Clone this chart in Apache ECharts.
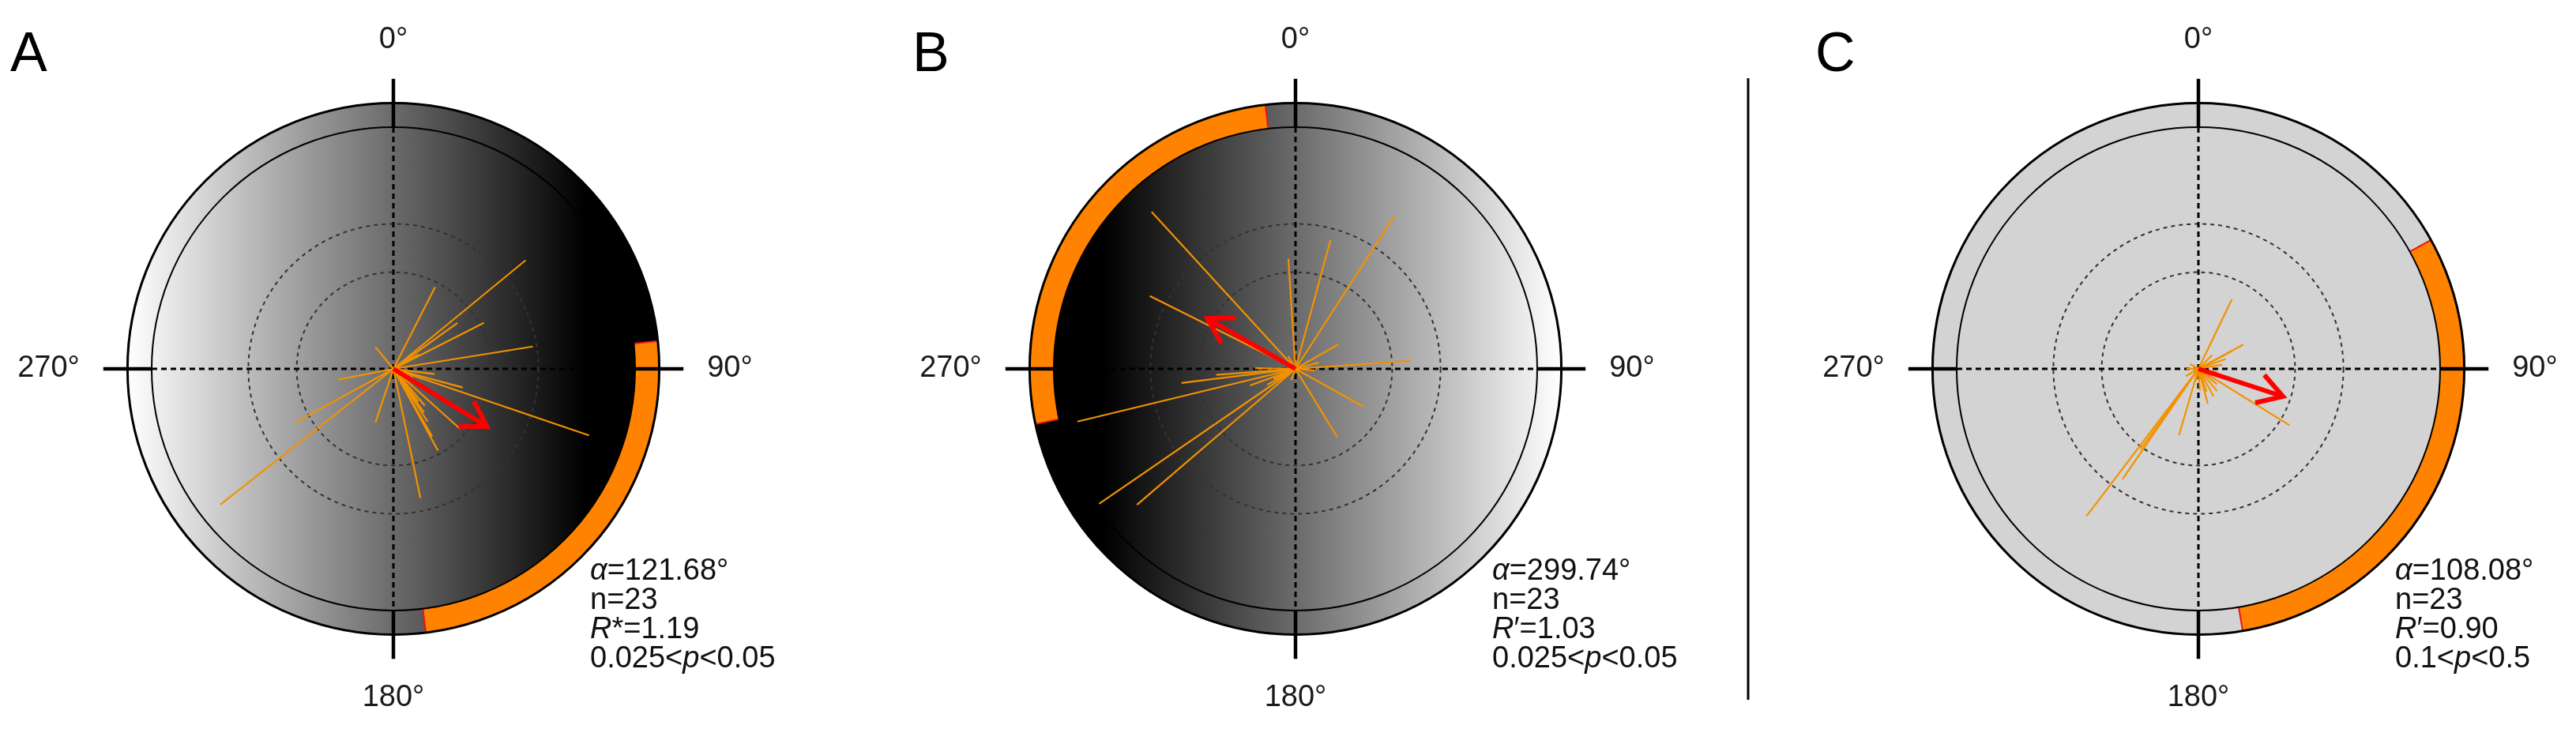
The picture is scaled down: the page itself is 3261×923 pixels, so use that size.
<!DOCTYPE html>
<html>
<head>
<meta charset="utf-8">
<title>Circular statistics A-C</title>
<script src="https://cdn.jsdelivr.net/npm/echarts@6/dist/echarts.min.js"></script>
<style>
  html, body { margin: 0; padding: 0; background: #fff; }
  #chart { width: 3261px; height: 923px; }
</style>
</head>
<body>
<div id="chart"></div>
<script>
// panels
const panelLetters = ['A', 'B', 'C']
const panelCenters = [[498, 467], [1640, 467], [2783, 467]]

// angle axis ticks (degrees, 0 at top, clockwise)
const angleTicks = [0, 90, 180, 270]

// radii in units of the inner circle
const ringRadii = [1.0, 1.1]
const gridRadii = [0.4, 0.6]
const tickOuter = 1.2

// single vectors [length, angle]
const spokesA = [
  [0.708, 50.6], [0.38, 27], [0.42, 63], [0.326, 54.4], [0.584, 80.9],
  [0.118, 320.5], [0.172, 97.2], [0.855, 108.8], [0.297, 105.1], [0.385, 151.4],
  [0.322, 150.2], [0.2, 139.5], [0.547, 168.2], [0.234, 198.5], [0.462, 241.3],
  [0.91, 231.9], [0.233, 259], [0.371, 132], [0.22, 145], [0.26, 147],
  [0.17, 143], [0.12, 60], [0.09, 115]
]
const spokesB = [
  [0.881, 317.5], [0.674, 296.6], [0.457, 356.3], [0.552, 15.2], [0.752, 32.9],
  [0.205, 60.2], [0.478, 86], [0.321, 119.1], [0.33, 148.6], [0.864, 229.4],
  [0.986, 235.5], [0.928, 256.4], [0.475, 262.9], [0.329, 265.7], [0.168, 271],
  [0.134, 240.6], [0.2, 250], [0.1, 245], [0.12, 300], [0.1, 75],
  [0.08, 95], [0.05, 200], [0.06, 330]
]
const spokesC = [
  [0.319, 25.7], [0.211, 61.5], [0.15, 62], [0.12, 70], [0.443, 121.8],
  [0.13, 151.1], [0.09, 176], [0.286, 196.3], [0.765, 217.2], [0.554, 214.5],
  [0.41, 215.7], [0.08, 100], [0.1, 130], [0.1, 160], [0.15, 165],
  [0.05, 190], [0.05, 270], [0.06, 240], [0.1, 80], [0.08, 45],
  [0.12, 140], [0.04, 300], [0.09, 110]
]

// mean vectors [length, angle]
const meanA = [0.455, 121.68]
const meanB = [0.42, 299.74]
const meanC = [0.368, 108.08]

// confidence arcs [from, to] in degrees
const arcA = [84, 173]
const arcB = [258, 353.5]
const arcC = [61, 170.4]

// statistics text
const alphaText = ['121.68°', '299.74°', '108.08°']
const nText = ['23', '23', '23']
const rMark = ['*', '′', '′']
const rText = ['1.19', '1.03', '0.90']
const pLow = ['0.025', '0.025', '0.1']
const pHigh = ['0.05', '0.05', '0.5']

const spokes = [spokesA, spokesB, spokesC]
const means = [meanA, meanB, meanC]
const arcs = [arcA, arcB, arcC]

const FONT = '"Liberation Sans", Arial, sans-serif'
const ORANGE = '#f39200'
const ARC_ORANGE = '#ff8200'
const RED = '#ff0000'

// disc shading for each panel
function discFill(idx) {
  if (idx === 0) {
    return new echarts.graphic.LinearGradient(0, 0, 1, 0, [
      { offset: 0, color: '#ffffff' },
      { offset: 0.86, color: '#000000' },
      { offset: 1, color: '#000000' },
    ])
  }
  if (idx === 1) {
    return new echarts.graphic.LinearGradient(0, 0, 1, 0, [
      { offset: 0, color: '#000000' },
      { offset: 0.14, color: '#000000' },
      { offset: 1, color: '#ffffff' },
    ])
  }
  return '#d3d3d3'
}

function makeFrame(idx) {
  return function (params, api) {
    const c = api.coord([0, 0])
    const rpx = (r) => {
      const p = api.coord([r, 0])
      return Math.hypot(p[0] - c[0], p[1] - c[1])
    }
    const arc = arcs[idx]
    const pts = []
    for (let a = arc[0]; a < arc[1]; a += 1) pts.push(api.coord([ringRadii[1], a]))
    pts.push(api.coord([ringRadii[1], arc[1]]))
    for (let a = arc[1]; a > arc[0]; a -= 1) pts.push(api.coord([ringRadii[0], a]))
    pts.push(api.coord([ringRadii[0], arc[0]]))

    const children = []
    // disc
    children.push({
      type: 'circle',
      shape: { cx: c[0], cy: c[1], r: rpx(ringRadii[1]) },
      style: { fill: discFill(idx), stroke: null },
    })
    // confidence arc
    children.push({
      type: 'polygon',
      shape: { points: pts },
      style: { fill: ARC_ORANGE, stroke: null },
    })
    arc.forEach((a) => {
      const p0 = api.coord([ringRadii[0], a])
      const p1 = api.coord([ringRadii[1], a])
      children.push({
        type: 'line',
        shape: { x1: p0[0], y1: p0[1], x2: p1[0], y2: p1[1] },
        style: { stroke: '#e8141c', lineWidth: 2 },
      })
    })
    // dashed grid circles
    gridRadii.forEach((r) => {
      children.push({
        type: 'circle',
        shape: { cx: c[0], cy: c[1], r: rpx(r) },
        style: { fill: null, stroke: '#333', lineWidth: 2, lineDash: [5, 5] },
      })
    })
    // dashed cross
    ;[[0, 180], [270, 90]].forEach((pair) => {
      const p0 = api.coord([ringRadii[0], pair[0]])
      const p1 = api.coord([ringRadii[0], pair[1]])
      children.push({
        type: 'line',
        shape: { x1: p0[0], y1: p0[1], x2: p1[0], y2: p1[1] },
        style: { stroke: '#000', lineWidth: 3, lineDash: [7, 5] },
      })
    })
    // rings
    children.push({
      type: 'circle',
      shape: { cx: c[0], cy: c[1], r: rpx(ringRadii[0]) },
      style: { fill: null, stroke: '#000', lineWidth: 2 },
    })
    children.push({
      type: 'circle',
      shape: { cx: c[0], cy: c[1], r: rpx(ringRadii[1]) },
      style: { fill: null, stroke: '#000', lineWidth: 3 },
    })
    // ticks
    angleTicks.forEach((a) => {
      const p0 = api.coord([ringRadii[0], a])
      const p1 = api.coord([tickOuter, a])
      children.push({
        type: 'line',
        shape: { x1: p0[0], y1: p0[1], x2: p1[0], y2: p1[1] },
        style: { stroke: '#000', lineWidth: 4.5 },
      })
    })
    return { type: 'group', children: children }
  }
}

function renderSpoke(params, api) {
  const a = api.value(1)
  const p0 = api.coord([0, a])
  const p1 = api.coord([api.value(0), a])
  return {
    type: 'line',
    shape: { x1: p0[0], y1: p0[1], x2: p1[0], y2: p1[1] },
    style: { stroke: ORANGE, lineWidth: 2.2 },
  }
}

function renderArrow(params, api) {
  const c = api.coord([0, 0])
  const tip = api.coord([api.value(0), api.value(1)])
  const dx = tip[0] - c[0]
  const dy = tip[1] - c[1]
  const L = Math.hypot(dx, dy)
  const bx = -dx / L
  const by = -dy / L
  const head = 36
  const arm = (s) => {
    const cs = Math.cos(s)
    const sn = Math.sin(s)
    return [tip[0] + head * (bx * cs - by * sn), tip[1] + head * (bx * sn + by * cs)]
  }
  const spread = (31 * Math.PI) / 180
  return {
    type: 'group',
    children: [
      {
        type: 'line',
        shape: { x1: c[0], y1: c[1], x2: tip[0] + bx * 3, y2: tip[1] + by * 3 },
        style: { stroke: RED, lineWidth: 6 },
      },
      {
        type: 'polyline',
        shape: { points: [arm(spread), tip, arm(-spread)] },
        style: { stroke: RED, lineWidth: 6, fill: null, lineJoin: 'miter' },
      },
    ],
  }
}

const myChart = echarts.init(document.getElementById('chart'))

const series = []
panelLetters.forEach((l, i) => {
  series.push({
    type: 'custom',
    coordinateSystem: 'polar',
    polarIndex: i,
    dimensions: ['radius', 'angle'],
    encode: { radius: 0, angle: 1 },
    data: [[ringRadii[1], 0]],
    renderItem: makeFrame(i),
    silent: true,
    z: 1,
  })
  series.push({
    type: 'custom',
    coordinateSystem: 'polar',
    polarIndex: i,
    dimensions: ['radius', 'angle'],
    encode: { radius: 0, angle: 1 },
    data: spokes[i],
    renderItem: renderSpoke,
    silent: true,
    z: 2,
  })
  series.push({
    type: 'custom',
    coordinateSystem: 'polar',
    polarIndex: i,
    dimensions: ['radius', 'angle'],
    encode: { radius: 0, angle: 1 },
    data: [means[i]],
    renderItem: renderArrow,
    silent: true,
    z: 3,
  })
})

myChart.setOption({
  animation: false,
  backgroundColor: '#fff',
  title: panelLetters.map((l, i) => ({
    text: l,
    left: panelCenters[i][0] - 485,
    top: 36,
    padding: 0,
    textStyle: { fontSize: 70, fontWeight: 'normal', fontFamily: FONT, color: '#000' },
  })),
  polar: panelCenters.map((c) => ({
    center: c,
    radius: tickOuter * 306,
  })),
  angleAxis: panelCenters.map((c, i) => ({
    polarIndex: i,
    type: 'value',
    min: 0,
    max: 360,
    interval: 90,
    startAngle: 90,
    clockwise: true,
    axisLine: { show: false },
    axisTick: { show: false },
    splitLine: { show: false },
    axisLabel: {
      margin: 30,
      fontSize: 38,
      fontFamily: FONT,
      color: '#1a1a1a',
      formatter: (v) => (v === 360 ? '' : v + '°'),
    },
  })),
  radiusAxis: panelCenters.map((c, i) => ({
    polarIndex: i,
    type: 'value',
    min: 0,
    max: tickOuter,
    show: false,
  })),
  graphic: panelCenters
    .map((c, i) => ({
      type: 'text',
      x: c[0] + 249,
      y: c[1] + 238,
      silent: true,
      style: {
        text:
          '{i|α}=' + alphaText[i] + '\n' +
          'n=' + nText[i] + '\n' +
          '{i|R}' + rMark[i] + '=' + rText[i] + '\n' +
          pLow[i] + '<{i|p}<' + pHigh[i],
        fontSize: 38,
        fontFamily: FONT,
        fill: '#111',
        lineHeight: 37,
        verticalAlign: 'top',
        rich: {
          i: { fontSize: 38, fontFamily: FONT, fontStyle: 'italic', lineHeight: 37, fill: '#111' },
        },
      },
    }))
    .concat([
      {
        type: 'line',
        silent: true,
        shape: { x1: 2213, y1: 99, x2: 2213, y2: 886 },
        style: { stroke: '#000', lineWidth: 3 },
      },
    ]),
  series: series,
})
</script>
</body>
</html>
